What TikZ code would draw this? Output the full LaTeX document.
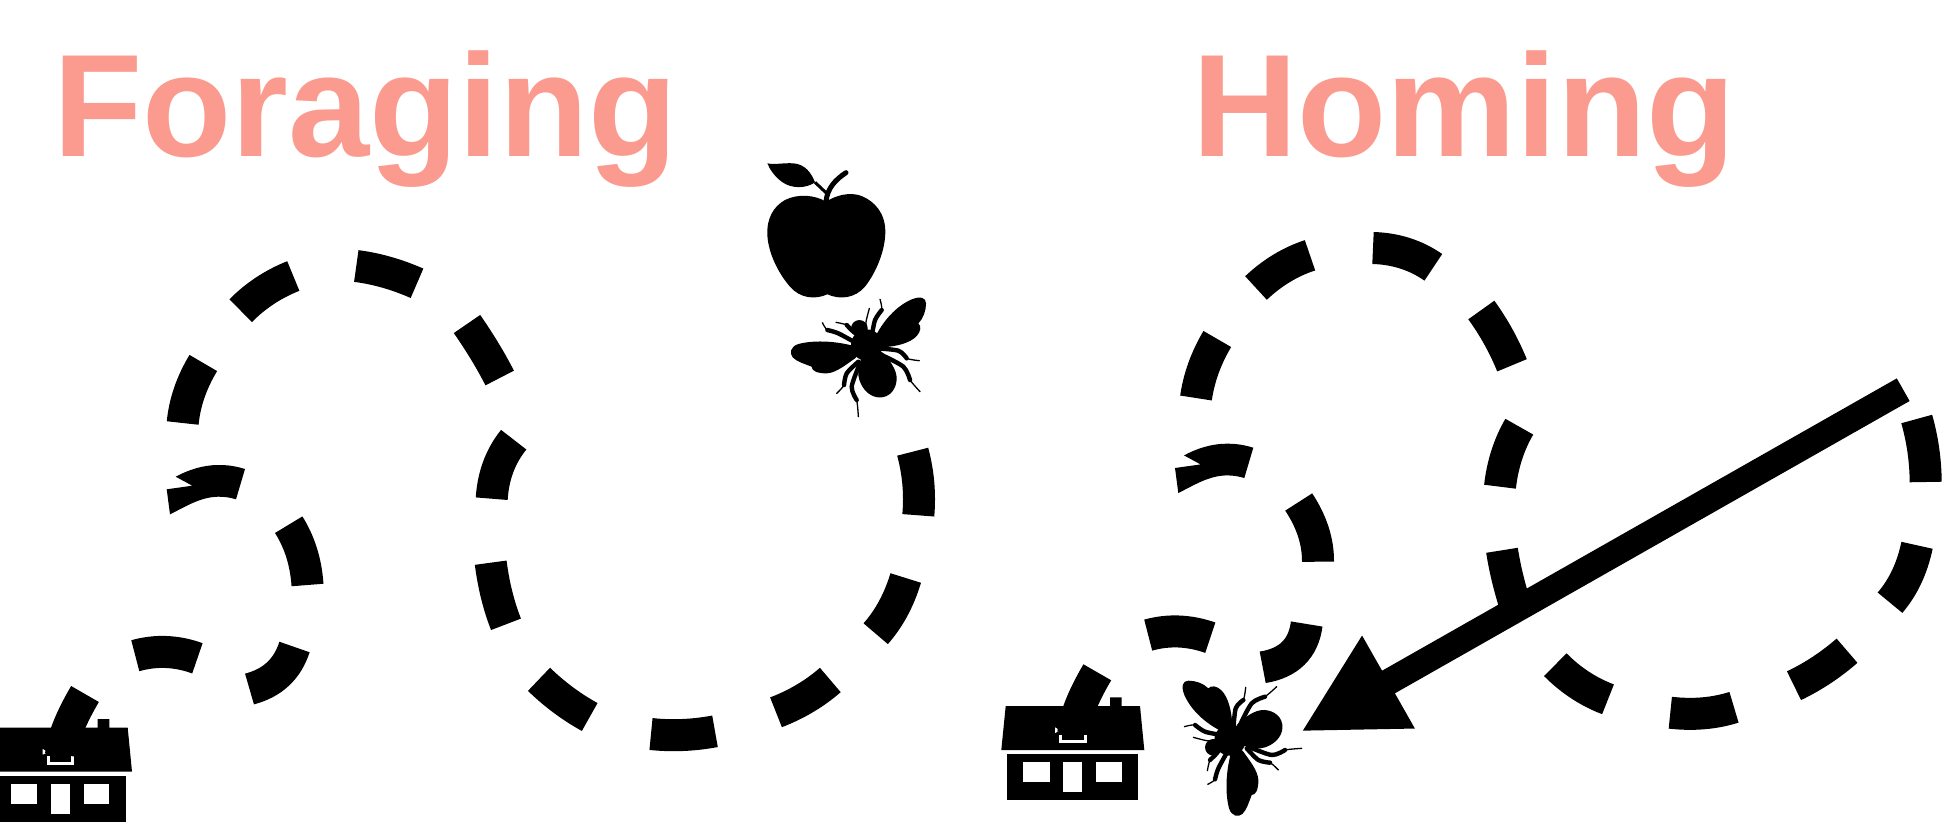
\documentclass[tikz,border=0pt]{standalone}
\usepackage{fontspec}
\setmainfont{Liberation Sans}
\usepackage{xcolor}
\usetikzlibrary{arrows.meta,calc}
\definecolor{titlesalmon}{RGB}{251,154,142}
\newcommand{\trailpiece}[3]{\draw[trail] #1 .. controls ($1.3333*#2-0.3333*#3$) and ($1.3333*#2-0.3333*#1$) .. #3;}
\newcommand{\beeleg}[2]{\draw[legthin] plot[smooth] coordinates {#1 #2}; \draw[legthick] plot[smooth] coordinates {#1};}

\begin{document}
\begin{tikzpicture}[
  x=1pt, y=-1pt,
  trail/.style={draw=black, line width=32pt},
  titlelbl/.style={font=\fontsize{146}{146}\selectfont\bfseries, text=titlesalmon, anchor=base west, inner sep=0pt},
  legthin/.style={draw=black, line width=1.3pt, line cap=round},
  legthick/.style={draw=black, line width=4.4pt, line cap=round},
  returnarrow/.style={draw=black, line width=26pt, -{Triangle[length=100.6pt,width=99pt]}},
  nest/.pic={
    \fill[black] (0,0) -- (4.4,-44) -- (108.7,-44) -- (108.7,-52.7) -- (120.4,-52.7) -- (120.4,-44) -- (138.7,-44) -- (143,0) -- cycle;
    \fill[white] (58,-15.5) rectangle (85.4,-6.7);
    \fill[black] (61,-16) rectangle (82.4,-10);
    \fill[white] (53.7,-22.7) -- (59,-19.5) -- (53.7,-17) -- cycle;
    \fill[black] (6,4.3) rectangle (136.7,50.3);
    \fill[white] (22,12) rectangle (48.4,32.3);
    \fill[white] (62,12) rectangle (80.7,42.3);
    \fill[white] (94.7,12) rectangle (120.4,32.3);
  },
  kinkdash/.pic={
    \fill[black] (245,469) .. controls (235,466) and (228,465) .. (218.3,465) .. controls (203,465) and (188,470) .. (175.7,476.7) -- (192.3,485.7) -- (166.7,489.3) -- (170,514.3) .. controls (185,507) and (200,497) .. (218.3,496.7) .. controls (225,496.7) and (230,497.5) .. (236,499.3) -- cycle;
  },
  bee/.pic={
    \begin{scope}[scale=0.3333]
      \fill[black] (-50,-5) .. controls (-100,-17) and (-160,-20) .. (-205,-8) .. controls (-230,0) and (-232,20) .. (-222,32) .. controls (-210,45) and (-185,52) .. (-165,60) .. controls (-165,72) and (-150,80) .. (-120,80) .. controls (-90,78) and (-60,52) .. (-35,35) -- (0,0) -- cycle;
      \fill[black] (30,-38) .. controls (50,-75) and (85,-120) .. (135,-142) .. controls (160,-152) and (178,-148) .. (178,-130) .. controls (178,-108) and (170,-85) .. (155,-70) .. controls (165,-62) and (162,-45) .. (150,-32) .. controls (130,-10) and (85,0) .. (45,2) -- (0,0) -- cycle;
      \fill[black] (-22,-55) circle [radius=25];
      \fill[black] (0,-5) circle [radius=47];
      \fill[black] (-15,30) .. controls (-25,60) and (-28,85) .. (-22,100) .. controls (-12,130) and (10,150) .. (35,152) .. controls (70,155) and (90,125) .. (90,95) .. controls (90,70) and (70,40) .. (45,15) -- cycle;
      \beeleg{(-25,-35) (-40,-45) (-60,-65)}{(-92,-73)}
      \beeleg{(-30,-10) (-85,-40) (-118,-50)}{(-133,-72)}
      \draw[legthin] plot[smooth] coordinates {(-2,-50) (-2,-75) (8,-115)};
      \beeleg{(15,-30) (25,-80) (45,-110)}{(40,-142)}
      \beeleg{(30,5) (95,12) (120,35)}{(158,42)}
      \beeleg{(45,25) (110,60) (130,100)}{(160,135)}
      \beeleg{(-25,45) (-60,80) (-68,115)}{(-90,140)}
      \beeleg{(-20,50) (-45,120) (-30,160)}{(-25,210)}
    \end{scope}
  },
  apple/.pic={
    \begin{scope}[scale=0.3333]
      \fill[black] (258,155) .. controls (225,135) and (175,130) .. (135,150) .. controls (100,170) and (80,205) .. (82,255) .. controls (85,310) and (115,370) .. (150,410) .. controls (180,445) and (225,450) .. (262,433) .. controls (300,450) and (345,445) .. (375,410) .. controls (410,365) and (436,300) .. (436,245) .. controls (436,190) and (405,155) .. (365,138) .. controls (330,125) and (290,135) .. (258,155) -- cycle;
      \fill[black] (82,40) .. controls (105,45) and (130,38) .. (160,40) .. controls (195,42) and (215,70) .. (225,97) .. controls (200,115) and (155,118) .. (125,95) .. controls (105,80) and (90,60) .. (82,40) -- cycle;
      \draw[black, line width=3pt] (225,97) -- (260,130);
      \draw[black, line width=5pt, line cap=round] (258,155) .. controls (262,115) and (285,90) .. (318,68);
    \end{scope}
  }
]
\path[use as bounding box, clip] (0,0) rectangle (1947,827);

\node[titlelbl] (foraging) at (53,156.7) {Foraging};
\node[titlelbl] (homing) at (1192,156.7) {Homing};

\pic at (740,150) {apple};
\pic at (866.7,346.7) {bee};
\pic[rotate=90] at (1231.7,740) {bee};

\pic at (-11,771.7) {nest};
\pic at (1001.3,750) {nest};

% outward trail
\trailpiece{(85,694)}{(68,728)}{(61,755)}
\trailpiece{(135.3,655.7)}{(166.3,652)}{(197.4,658.3)}
\trailpiece{(249.5,689)}{(278,674)}{(294.5,647)}
\trailpiece{(307.5,585)}{(301.7,553)}{(288.7,524.7)}
\pic at (0,0) {kinkdash};
\trailpiece{(182.7,423)}{(189.3,392.7)}{(203.3,363)}
\trailpiece{(240.7,310.7)}{(265,290.7)}{(293.3,276)}
\trailpiece{(356.3,266)}{(386.7,272.3)}{(417,283.3)}
\trailpiece{(467,324)}{(485,351.7)}{(499.7,378)}
\trailpiece{(513.7,439.7)}{(498.3,466.7)}{(491.7,498.7)}
\trailpiece{(490.7,562.7)}{(496.7,595)}{(506,624.3)}
\trailpiece{(539,679.3)}{(563.3,700)}{(589.7,717)}
\trailpiece{(651,734)}{(682.7,735)}{(715,731.3)}
\trailpiece{(776,712.3)}{(805,698.3)}{(830.3,680)}
\trailpiece{(875.7,633.7)}{(893.3,608.3)}{(905.7,578)}
\trailpiece{(912.7,451.7)}{(918.3,483.3)}{(918.3,515.3)}

% same walk beside the homing title
\trailpiece{(1097.3,672.3)}{(1080.3,706.3)}{(1073.3,733.3)}
\trailpiece{(1148.2,635.1)}{(1179,631.5)}{(1210.3,637.7)}
\trailpiece{(1262.7,667.3)}{(1293.3,653.3)}{(1306.7,624)}
\trailpiece{(1318,561.7)}{(1313.3,531.7)}{(1298.7,502)}
\pic at (1008.3,-21.3) {kinkdash};
\trailpiece{(1196,398)}{(1203.5,368)}{(1217.3,339)}
\trailpiece{(1256,288)}{(1281.7,268.3)}{(1310,255.3)}
\trailpiece{(1373,248)}{(1405,253.3)}{(1433.3,267.3)}
\trailpiece{(1481.3,310)}{(1498.3,336.7)}{(1512,365.3)}
\trailpiece{(1519.3,426.7)}{(1506.7,455)}{(1500,486.7)}
\trailpiece{(1502,550.3)}{(1508,580)}{(1517.3,612)}
\trailpiece{(1555.3,664.7)}{(1580,685)}{(1608,699.3)}
\trailpiece{(1670.3,712.7)}{(1703.3,713.3)}{(1734,707.3)}
\trailpiece{(1794,685.7)}{(1821.7,670)}{(1847,650.7)}
\trailpiece{(1890,602.7)}{(1906.7,576.7)}{(1917,545.3)}
\trailpiece{(1925.7,482)}{(1923.3,450)}{(1916.7,419)}

\coordinate (arrowstart) at (1903.2,389.7);
\coordinate (arrowtip) at (1301,731.7);
\draw[returnarrow] (arrowstart) -- (arrowtip);
\end{tikzpicture}
\end{document}
